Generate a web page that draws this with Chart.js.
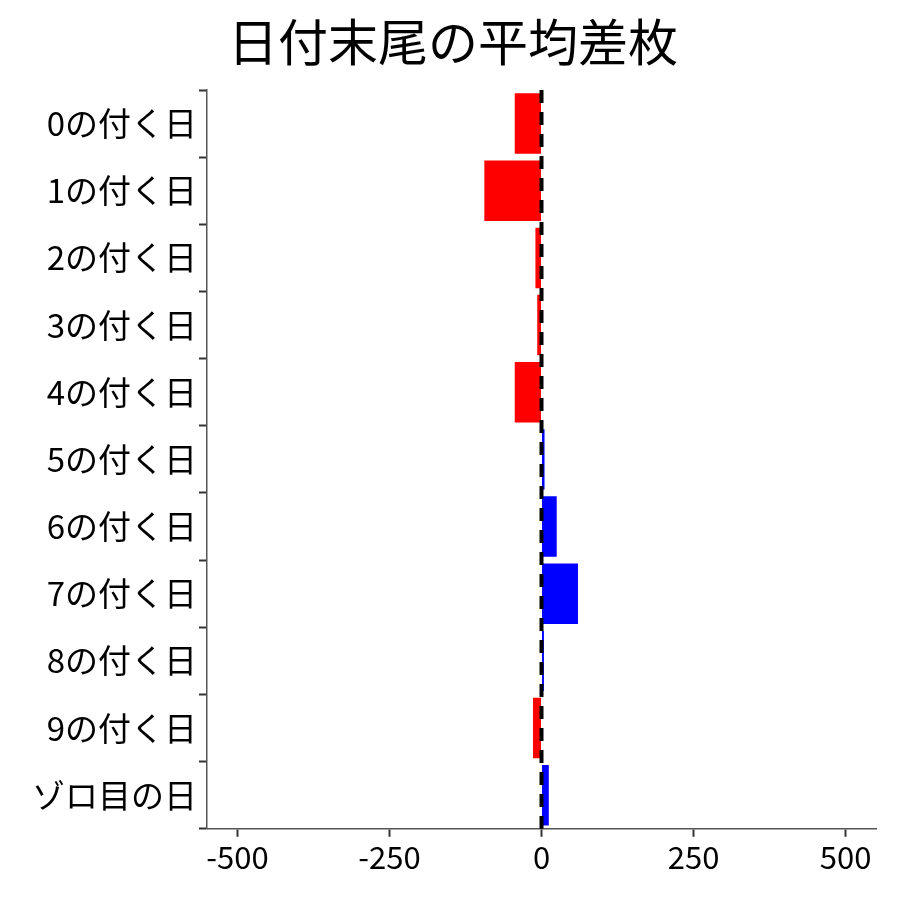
<!DOCTYPE html>
<html><head><meta charset="utf-8">
<script src="https://cdn.jsdelivr.net/npm/chart.js@4/dist/chart.umd.min.js"></script>
<style>html,body{margin:0;background:#fff}#w{width:900px;height:900px}</style>
</head><body><div id="w"><canvas id="c"></canvas></div>
<script>
const categories = ["0の付く日","1の付く日","2の付く日","3の付く日","4の付く日","5の付く日","6の付く日","7の付く日","8の付く日","9の付く日","ゾロ目の日"];
const values = [-44,-94,-10,-7,-44,5,25,60,4,-14,12];
const xTicks = [-500,-250,0,250,500];
const F = "'Noto Sans CJK JP','Noto Sans',sans-serif";
const zeroLine = {id:'zero',afterDatasetsDraw(ch){const x=ch.scales.x.getPixelForValue(0),a=ch.chartArea,c=ch.ctx;c.save();c.strokeStyle='#000';c.lineWidth=4;c.setLineDash([13,9]);c.beginPath();c.moveTo(x,a.top);c.lineTo(x,a.bottom);c.stroke();c.restore();}};
new Chart(document.getElementById('c'),{type:'bar',
data:{labels:categories,datasets:[{data:values,backgroundColor:values.map(v=>v<0?'#ff0000':'#0000ff'),categoryPercentage:0.9,barPercentage:1}]},
options:{indexAxis:'y',responsive:true,maintainAspectRatio:false,animation:false,
layout:{padding:{left:30,right:24,top:12,bottom:22}},
plugins:{legend:{display:false},tooltip:{enabled:false},title:{display:true,text:'日付末尾の平均差枚',font:{family:F,size:50,weight:'normal'},color:'#000',padding:{top:0,bottom:18}}},
scales:{x:{min:-550,max:550,afterBuildTicks(s){s.ticks=xTicks.map(v=>({value:v}));},
ticks:{font:{family:F,size:31},color:'#000',padding:2,callback:v=>String(v)},
grid:{display:true,drawOnChartArea:false,drawTicks:true,tickLength:8,tickColor:'#333',tickWidth:2},border:{color:'#555',width:1.5}},
y:{ticks:{font:{family:F,size:33},color:'#000',padding:2},grid:{display:true,drawOnChartArea:false,tickLength:8,tickColor:'#333',tickWidth:2},border:{color:'#555',width:1.5}}}},
plugins:[zeroLine]});
</script></body></html>
